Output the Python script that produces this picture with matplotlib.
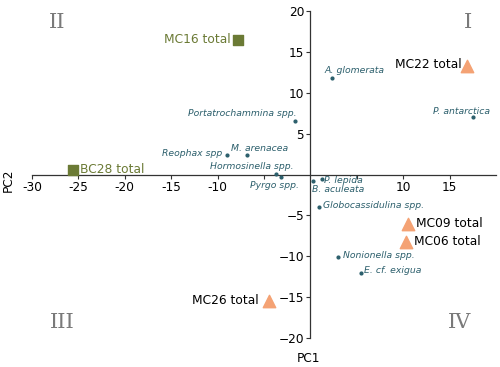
import matplotlib
matplotlib.use('Agg')
import matplotlib.pyplot as plt

# ------------------------------------------------------------
# data
# ------------------------------------------------------------
species = ["A. glomerata", "P. antarctica", "Portatrochammina spp.", "Reophax spp",
           "M. arenacea", "Hormosinella spp.", "Pyrgo spp.", "P. lepida",
           "B. aculeata", "Globocassidulina spp.", "Nonionella spp.", "E. cf. exigua"]
species_pc1 = [2.3, 17.5, -1.7, -9.0, -6.8, -3.7, -3.2, 1.2, 0.3, 0.9, 3.0, 5.4]
species_pc2 = [11.8, 7.0, 6.6, 2.4, 2.4, 0.1, -0.25, -0.6, -0.85, -4.0, -10.1, -12.0]

square_samples = ["MC16 total", "BC28 total"]
square_pc1 = [-7.85, -25.6]
square_pc2 = [16.5, 0.6]

tri_samples = ["MC22 total", "MC09 total", "MC06 total", "MC26 total"]
tri_pc1 = [16.9, 10.5, 10.3, -4.5]
tri_pc2 = [13.3, -6.0, -8.2, -15.5]

xticks = [-30, -25, -20, -15, -10, -5, 5, 10, 15]
yticks = [-20, -15, -10, -5, 5, 10, 15, 20]

# label placement (offset in px, horizontal alignment)
species_off = {
    "A. glomerata": (-7, 8, "left"),
    "P. antarctica": (-11, 6, "center"),
    "Portatrochammina spp.": (2, 7, "right"),
    "Reophax spp": (-5, 1, "right"),
    "M. arenacea": (-16, 6, "left"),
    "Hormosinella spp.": (18, 7, "right"),
    "Pyrgo spp.": (18, -9, "right"),
    "P. lepida": (2, -1, "left"),
    "B. aculeata": (-1, -8, "left"),
    "Globocassidulina spp.": (4, 2, "left"),
    "Nonionella spp.": (5, 2, "left"),
    "E. cf. exigua": (3, 2, "left"),
}
sample_off = {
    "MC16 total": (-7, 0, "right"),
    "BC28 total": (7, 0, "left"),
    "MC22 total": (-6, 1, "right"),
    "MC09 total": (8, 0, "left"),
    "MC06 total": (8, 0, "left"),
    "MC26 total": (-10, 1, "right"),
}

TEAL = "#2C5F6C"
OLIVE = "#6B7A35"
ORANGE = "#F4A274"
GREY = "#7A7A7A"
PX = 0.72  # px -> points at dpi 100

fig = plt.figure(figsize=(5.0, 3.67), dpi=100)
ax = fig.add_axes([0.064, 0.079, 0.928, 0.891])
ax.set_xlim(-30, 20)
ax.set_ylim(-20, 20)

# spines through the origin
ax.spines["left"].set_position(("data", 0))
ax.spines["bottom"].set_position(("data", 0))
ax.spines["right"].set_visible(False)
ax.spines["top"].set_visible(False)
for s in ("left", "bottom"):
    ax.spines[s].set_color("#333333")
    ax.spines[s].set_linewidth(0.9)

ax.set_xticks(xticks)
ax.set_xticklabels([str(t) if abs(t) != 5 else "" for t in xticks])
ax.set_yticks(yticks)
ax.tick_params(labelsize=8.7, length=3, width=0.8, color="#333333", pad=1.5)

# species
ax.scatter(species_pc1, species_pc2, s=4, color=TEAL, zorder=3)
for name, x, y in zip(species, species_pc1, species_pc2):
    dx, dy, ha = species_off[name]
    ax.annotate(name, (x, y), xytext=(dx * PX, dy * PX), textcoords="offset points",
                ha=ha, va="center", fontsize=6.7, style="italic", color=TEAL)

# samples
ax.scatter(square_pc1, square_pc2, marker="s", s=52, color=OLIVE, zorder=4)
for name, x, y in zip(square_samples, square_pc1, square_pc2):
    dx, dy, ha = sample_off[name]
    ax.annotate(name, (x, y), xytext=(dx * PX, dy * PX), textcoords="offset points",
                ha=ha, va="center", fontsize=8.8, color=OLIVE)

ax.scatter(tri_pc1, tri_pc2, marker="^", s=80, color=ORANGE, zorder=4)
for name, x, y in zip(tri_samples, tri_pc1, tri_pc2):
    dx, dy, ha = sample_off[name]
    ax.annotate(name, (x, y), xytext=(dx * PX, dy * PX), textcoords="offset points",
                ha=ha, va="center", fontsize=8.8, color="black")

# quadrant numerals
for txt, fx, fy in [("II", 57, 22), ("I", 468, 22), ("III", 62, 322), ("IV", 460, 322)]:
    fig.text(fx / 500, 1 - fy / 367, txt, ha="center", va="center",
             fontsize=15, family="DejaVu Serif", color=GREY)

fig.text(308 / 500, 1 - 358 / 367, "PC1", ha="center", va="center", fontsize=8.7)
fig.text(8 / 500, 1 - 180 / 367, "PC2", ha="center", va="center", fontsize=8.7, rotation=90)

fig.savefig("out.png", dpi=100)
